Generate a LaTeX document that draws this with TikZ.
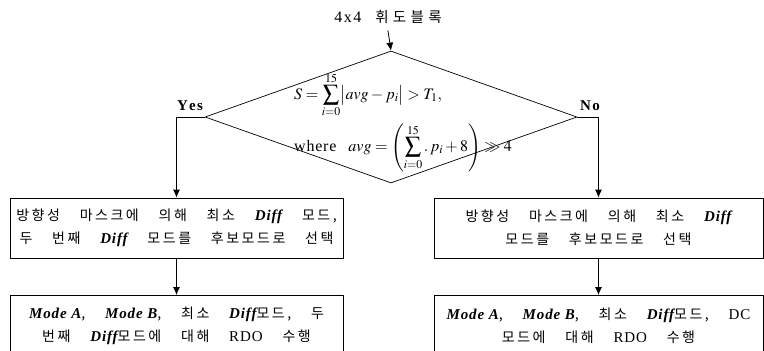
\documentclass[tikz,border=0pt]{standalone}
\usepackage{mathptmx}
\usepackage[no-math]{fontspec}
\setmainfont{Liberation Serif}
\newfontfamily\lat[LetterSpace=6]{Liberation Serif}
\newfontfamily\kr[LetterSpace=18,WordSpace=3.5]{Noto Sans CJK KR}
\newfontfamily\krwide[LetterSpace=30]{Noto Sans CJK KR}
\usetikzlibrary{shapes.geometric,arrows.meta}

\newcommand\diffw{{\lat\bfseries\itshape\fontsize{15}{23}\selectfont Diff}}
\newcommand\modea{{\lat\bfseries\itshape\fontsize{15}{23}\selectfont Mode~A}}
\newcommand\modeb{{\lat\bfseries\itshape\fontsize{15}{23}\selectfont Mode~B}}
\newcommand\latin[1]{{\lat\fontsize{15}{23}\selectfont #1}}

\tikzset{
  box/.style={draw,line width=0.8pt,minimum height=60pt,inner sep=0pt,align=center,
    font=\kr\fontsize{14}{23}\selectfont},
  decision/.style={diamond,draw,line width=0.7pt,minimum width=372pt,minimum height=132pt,
    inner sep=0pt},
  cond/.style={align=left,inner sep=0pt,font=\fontsize{16}{20}\selectfont},
  tag/.style={font=\bfseries\fontsize{15}{16}\selectfont,inner sep=1pt}
}

\begin{document}
\begin{tikzpicture}[x=1pt,y=-1pt,line cap=round,line join=round,>={Latex[length=8pt,width=7pt]}]
  \clip (0,0) rectangle (764,351);
  % start block
  \node[font=\krwide\fontsize{14.5}{16}\selectfont,inner sep=1pt] (start) at (388,17)
    {{\lat\fontsize{16}{16}\selectfont 4\kern1.5pt x\kern1.5pt 4}\hspace{14pt}휘도블록};
  % threshold test
  \node[decision] (test) at (391,117) {};
  \node[cond,anchor=west] (rule) at (294,122)
    {$\displaystyle S=\sum_{i=0}^{15}\bigl|avg-p_i\bigr|>T_1,$\\[5pt]
     w\kern.8pt h\kern.8pt e\kern.8pt r\kern.8pt e\ \ \ $\displaystyle avg=\left(\sum_{i=0}^{15}.\,p_i+8\right)\gg 4$};
  \node[tag] (yes) at (190,106) {Y\kern1.2pt e\kern1.2pt s};
  \node[tag] (no) at (590,106) {N\kern1.2pt o};
  % candidate selection
  \node[box,minimum width=333pt] (ybox) at (176.5,228)
    {방향성 마스크에 의해 최소 \diffw{} 모드,\\두 번째 \diffw{} 모드를 후보모드로 선택};
  \node[box,minimum width=329pt] (nbox) at (598.5,228)
    {방향성 마스크에 의해 최소 \diffw\\모드를 후보모드로 선택};
  % RDO
  \node[box,minimum width=333pt,anchor=north] (yrdo) at (176.5,295)
    {\modea, \modeb, 최소 \diffw{}모드, 두\\번째 \diffw{}모드에 대해 \latin{RDO} 수행};
  \node[box,minimum width=329pt,anchor=north] (nrdo) at (598.5,295)
    {\modea, \modeb, 최소 \diffw{}모드, \latin{DC}\\모드에 대해 \latin{RDO} 수행};
  % connectors
  \draw[->,line width=0.8pt] (start.south) ++(0,6) -- (test.north);
  \draw[->,line width=0.8pt] (test.west) -| (ybox.north);
  \draw[->,line width=0.8pt] (test.east) -| (nbox.north);
  \draw[->,line width=0.8pt] (ybox) -- (yrdo);
  \draw[->,line width=0.8pt] (nbox) -- (nrdo);
\end{tikzpicture}
\end{document}
